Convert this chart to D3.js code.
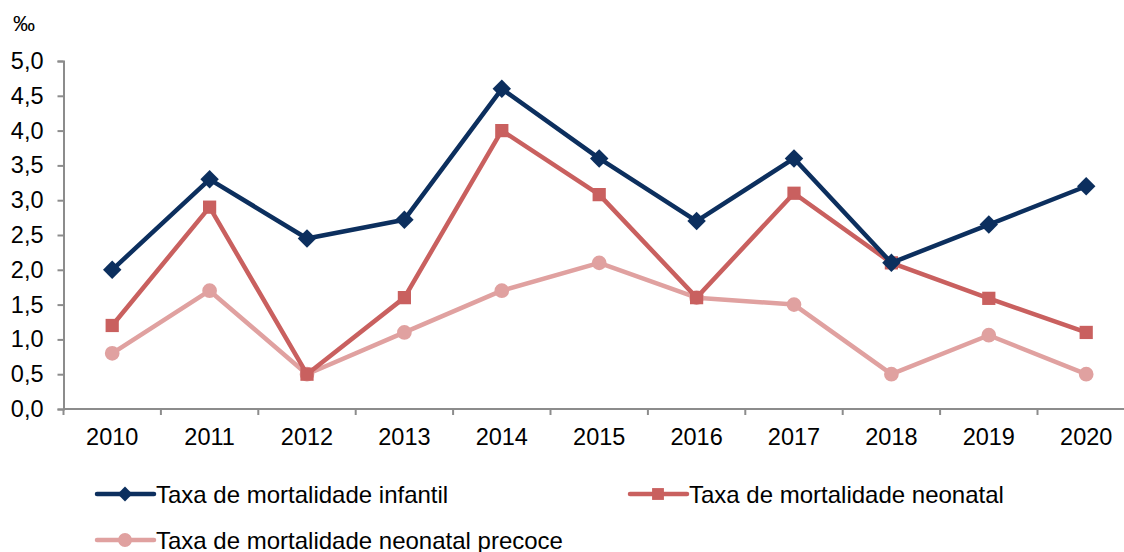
<!DOCTYPE html>
<html><head><meta charset="utf-8">
<script src="https://cdn.jsdelivr.net/npm/d3@7"></script>
<style>body{margin:0;background:#fff}svg{display:block;font-family:"Liberation Sans",Arial,sans-serif}</style>
</head><body><svg id="c" width="1124" height="552"></svg>
<script>
const years = ["2010","2011","2012","2013","2014","2015","2016","2017","2018","2019","2020"];
const infantil = [2.0,3.3,2.45,2.72,4.6,3.6,2.7,3.6,2.1,2.65,3.2];
const neonatal = [1.2,2.9,0.5,1.6,4.0,3.08,1.6,3.1,2.1,1.59,1.1];
const precoce = [0.8,1.7,0.5,1.1,1.7,2.1,1.6,1.5,0.5,1.06,0.5];
const yTicks = [0,0.5,1,1.5,2,2.5,3,3.5,4,4.5,5];
const seriesNames = ["Taxa de mortalidade infantil","Taxa de mortalidade neonatal","Taxa de mortalidade neonatal precoce"];

(function(){
const svg = d3.select("#c");
const left = 63.5, topY = 61, bottom = 409;
const x = d3.scaleBand().domain(years).range([left, left + 11*97.4]).padding(0);
const y = d3.scaleLinear().domain([0,5]).range([bottom, topY]);
const fmt = d => d.toFixed(1).replace(".", ",");
const FS = "23.5px";

const yAxis = svg.append("g").attr("transform",`translate(${left},0)`)
  .call(d3.axisLeft(y).tickValues(yTicks).tickFormat(fmt).tickSize(6).tickPadding(14));
const xAxis = svg.append("g").attr("transform",`translate(0,${bottom})`)
  .call(d3.axisBottom(x).tickSize(0).tickPadding(19));
[yAxis,xAxis].forEach(a=>{a.selectAll("path,line").attr("stroke","#8c8c8c").attr("stroke-width",2);
  a.selectAll("text").attr("font-size",FS).attr("fill","#000").style("font-family","Liberation Sans, Arial, sans-serif");});
xAxis.select("path.domain").attr("d",`M${left},0H1124`);
xAxis.selectAll("line.bt").data(d3.range(0,12)).enter().append("line").attr("class","bt")
  .attr("x1",i=>left+i*x.step()).attr("x2",i=>left+i*x.step()).attr("y1",0).attr("y2",6)
  .attr("stroke","#8c8c8c").attr("stroke-width",2);

svg.append("text").attr("x",13).attr("y",31).attr("font-size","22px").text("‰");

const series = [
  {name:seriesNames[0], values:infantil, color:"#0c2f5e", sym:d3.symbolSquare, size:170, rot:45, lsize:110},
  {name:seriesNames[1], values:neonatal, color:"#c9605f", sym:d3.symbolSquare, size:175, rot:0, lsize:140},
  {name:seriesNames[2], values:precoce, color:"#e0a1a0", sym:d3.symbolCircle, size:170, rot:0, lsize:150}
];
const cx = d => x(d) + x.bandwidth()/2;
const line = d3.line().x((d,i)=>cx(years[i])).y(d=>y(d));
series.slice().reverse().forEach(s=>{
  const g = svg.append("g");
  g.append("path").attr("d",line(s.values)).attr("fill","none").attr("stroke",s.color).attr("stroke-width",4.5).attr("stroke-linejoin","round");
  g.selectAll("path.m").data(s.values).enter().append("path").attr("class","m")
    .attr("d",d3.symbol().type(s.sym).size(s.size))
    .attr("transform",(d,i)=>`translate(${cx(years[i])},${y(d)}) rotate(${s.rot})`).attr("fill",s.color);
});

const legPos = [{x:97,y:494},{x:630,y:494},{x:97,y:540}];
series.forEach((s,i)=>{
  const p = legPos[i];
  const g = svg.append("g").attr("transform",`translate(${p.x},${p.y})`);
  g.append("line").attr("x1",0).attr("x2",57).attr("stroke",s.color).attr("stroke-width",4.5).attr("stroke-linecap","round");
  g.append("path").attr("d",d3.symbol().type(s.sym).size(s.lsize)).attr("transform",`translate(28,0) rotate(${s.rot})`).attr("fill",s.color);
  g.append("text").attr("x",59).attr("y",8.5).attr("font-size","24px").text(s.name);
});
})();
</script></body></html>
